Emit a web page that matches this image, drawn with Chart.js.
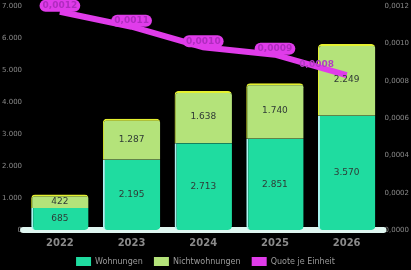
<!DOCTYPE html>
<html>
<head>
<meta charset="utf-8">
<script src="https://cdn.jsdelivr.net/npm/chart.js@4.4.1/dist/chart.umd.min.js"></script>
<style>
  html, body { margin: 0; padding: 0; background: #000; }
  #wrap { width: 411px; height: 270px; position: relative; }
</style>
</head>
<body>
<div id="wrap"><canvas id="chart"></canvas></div>
<script>
const years = ["2022", "2023", "2024", "2025", "2026"];
const wohnungen = [685, 2195, 2713, 2851, 3570];
const nichtwohnungen = [422, 1287, 1638, 1740, 2249];
const quote = [0.00117, 0.00109, 0.00098, 0.00094, 0.00083];
const leftTicks = [0, 1000, 2000, 3000, 4000, 5000, 6000, 7000];
const rightTicks = [0, 0.0002, 0.0004, 0.0006, 0.0008, 0.001, 0.0012];

const fmtInt = (v) => v.toLocaleString("de-DE");
const fmtQuote = (v) => v.toFixed(4).replace(".", ",");

// pale floor strip under the bars
const floorPlugin = {
  id: "floor",
  beforeDatasetsDraw(chart) {
    const { ctx, chartArea } = chart;
    const y = chart.scales.y.getPixelForValue(0);
    ctx.save();
    ctx.fillStyle = "#dff6f0";
    ctx.beginPath();
    ctx.roundRect(chartArea.left - 4, y - 3, chartArea.right - chartArea.left + 8, 6, 3);
    ctx.fill();
    ctx.restore();
  },
};

// value labels: centred in bar segments, tagged on line points
const labelPlugin = {
  id: "valueLabels",
  afterDatasetsDraw(chart) {
    const { ctx } = chart;
    ctx.save();
    ctx.textAlign = "center";
    ctx.textBaseline = "middle";
    chart.data.datasets.forEach((ds, di) => {
      const meta = chart.getDatasetMeta(di);
      meta.data.forEach((el, i) => {
        const v = ds.data[i];
        if (ds.type === "line") {
          const text = fmtQuote(v);
          ctx.font = "bold 9px 'DejaVu Sans', sans-serif";
          const last = i === ds.data.length - 1;
          if (last) {
            ctx.fillStyle = "#b23cc4";
            ctx.fillText(text, el.x - 30, el.y - 11);
          } else {
            const w = ctx.measureText(text).width + 6;
            ctx.fillStyle = "#e03cea";
            ctx.beginPath();
            ctx.roundRect(el.x - w / 2, el.y - 12, w, 12, 6);
            ctx.fill();
            ctx.fillStyle = "#b02cc0";
            ctx.fillText(text, el.x, el.y - 6);
          }
        } else {
          const mid = (el.y + el.base) / 2;
          ctx.font = "9px 'DejaVu Sans', sans-serif";
          ctx.fillStyle = "#2f3a36";
          ctx.fillText(fmtInt(v), el.x, mid);
        }
      });
    });
    ctx.restore();
  },
};

new Chart(document.getElementById("chart"), {
  data: {
    labels: years,
    datasets: [
      {
        type: "line",
        label: "Quote je Einheit",
        data: quote,
        yAxisID: "y1",
        borderColor: "#e03cea",
        backgroundColor: "#e03cea",
        borderWidth: 6,
        pointRadius: 0,
        tension: 0,
        order: 0,
      },
      {
        type: "bar",
        label: "Wohnungen",
        data: wohnungen,
        yAxisID: "y",
        backgroundColor: "#1fdca0",
        borderColor: "#a8f4f0",
        borderWidth: { left: 2, top: 0, right: 0, bottom: 0 },
        borderSkipped: false,
        borderRadius: { bottomLeft: 4, bottomRight: 4, topLeft: 0, topRight: 0 },
        barPercentage: 0.8,
        categoryPercentage: 1,
        order: 1,
      },
      {
        type: "bar",
        label: "Nichtwohnungen",
        data: nichtwohnungen,
        yAxisID: "y",
        backgroundColor: "#b4e37a",
        borderColor: "#e4f030",
        borderWidth: { left: 1, top: 2, right: 0, bottom: 0 },
        borderSkipped: false,
        borderRadius: { topLeft: 4, topRight: 4, bottomLeft: 0, bottomRight: 0 },
        barPercentage: 0.8,
        categoryPercentage: 1,
        order: 2,
      },
    ],
  },
  options: {
    responsive: true,
    maintainAspectRatio: false,
    animation: false,
    layout: { padding: { top: 2, left: 0, right: 0, bottom: -6 } },
    plugins: {
      legend: {
        position: "bottom",
        labels: {
          color: "#9a9a9a",
          font: { size: 8, family: "'DejaVu Sans', sans-serif" },
          boxWidth: 15,
          boxHeight: 9,
          padding: 1,
          generateLabels: (chart) => {
            const items = Chart.defaults.plugins.legend.labels.generateLabels(chart);
            items.forEach((it, i) => {
              it.lineWidth = 0;
              if (i > 0) it.text = it.text + "    ";
            });
            return [items[1], items[2], items[0]];
          },
        },
      },
      tooltip: { enabled: false },
    },
    scales: {
      x: {
        stacked: true,
        grid: { display: false, drawTicks: false },
        border: { display: false },
        ticks: { color: "#8a8a8a", font: { size: 10, weight: "bold", family: "'DejaVu Sans', sans-serif", lineHeight: 0.8 }, padding: 9 },
      },
      y: {
        stacked: true,
        min: 0,
        max: leftTicks[leftTicks.length - 1],
        afterBuildTicks: (axis) => { axis.ticks = leftTicks.map((v) => ({ value: v })); },
        grid: { display: false, drawTicks: false },
        border: { display: false },
        ticks: { color: "#8a8a8a", font: { size: 7, family: "'DejaVu Sans', sans-serif" }, callback: (v) => fmtInt(v), padding: 2 },
      },
      y1: {
        position: "right",
        min: 0,
        max: rightTicks[rightTicks.length - 1],
        afterBuildTicks: (axis) => { axis.ticks = rightTicks.map((v) => ({ value: v })); },
        grid: { display: false, drawTicks: false },
        border: { display: false },
        ticks: { color: "#8a8a8a", font: { size: 7, family: "'DejaVu Sans', sans-serif" }, callback: (v) => fmtQuote(v), padding: 2 },
      },
    },
  },
  plugins: [floorPlugin, labelPlugin],
});
</script>
</body>
</html>
